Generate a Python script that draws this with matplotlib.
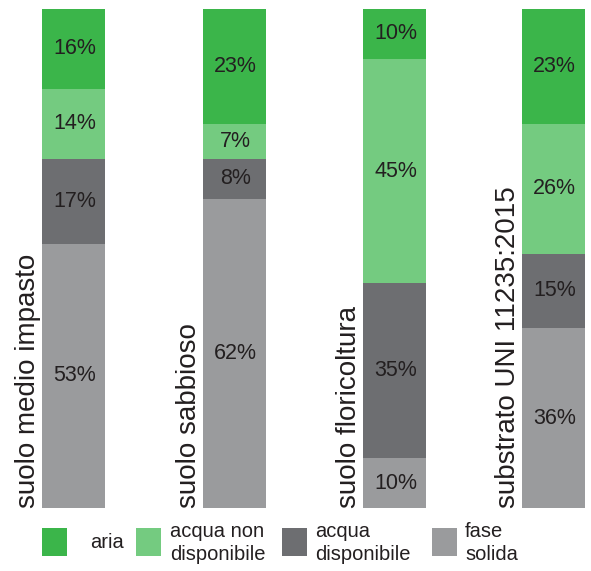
import matplotlib.pyplot as plt
from matplotlib.patches import Rectangle

plt.rcParams['font.family'] = ['Liberation Sans', 'DejaVu Sans']

soils = ['suolo medio impasto', 'suolo sabbioso', 'suolo floricoltura',
         'substrato UNI 11235:2015']
components = ['aria', 'acqua non\ndisponibile', 'acqua\ndisponibile', 'fase\nsolida']
colors = ['#3bb54a', '#74cb80', '#6d6e71', '#9a9b9d']

# percentages per soil, stacked from the bottom (fase solida) up to aria
fase_solida = [53, 62, 10, 36]
acqua_disp = [17, 8, 35, 15]
acqua_non_disp = [14, 7, 45, 26]
aria = [16, 23, 10, 23]

W, H = 591, 571
fig = plt.figure(figsize=(W / 100, H / 100), dpi=100)
# axes in pixel coordinates horizontally, percent vertically
bottom_px, top_px = 508, 9
ax = fig.add_axes([0, (H - bottom_px) / H, 1, (bottom_px - top_px) / H])
ax.set_xlim(0, W)
ax.set_ylim(0, 100)
ax.axis('off')

bar_left = [42, 203, 363, 522]
bar_w = 63
centers = [x + bar_w / 2 for x in bar_left]
text_color = '#231f20'

stack = [fase_solida, acqua_disp, acqua_non_disp, aria]
stack_colors = [colors[3], colors[2], colors[1], colors[0]]
base = [0, 0, 0, 0]
for vals, col in zip(stack, stack_colors):
    ax.bar(centers, vals, width=bar_w, bottom=base, color=col, linewidth=0)
    for c, b, v in zip(centers, base, vals):
        ax.text(c + 1, b + v / 2, f'{v}%', ha='center', va='center',
                fontsize=15.5, color=text_color)
    base = [b + v for b, v in zip(base, vals)]

for x, name in zip(bar_left, soils):
    ax.text(x - 1, 0, name, rotation=90, ha='right', va='bottom',
            fontsize=20, color=text_color)

# legend drawn below the bars
sq_x = [42, 136, 282, 432]
text_x = [90, 170, 315, 465]
for sx, tx, col, lab in zip(sq_x, text_x, colors, components):
    fig.patches.append(Rectangle((sx / W, (H - 556) / H), 25 / W, 28 / H,
                                 transform=fig.transFigure, color=col,
                                 linewidth=0))
    fig.text(tx / W, (H - 543) / H, lab, ha='left', va='center',
             fontsize=14.5, color=text_color, linespacing=1.25)

fig.savefig('out.png', dpi=100)
